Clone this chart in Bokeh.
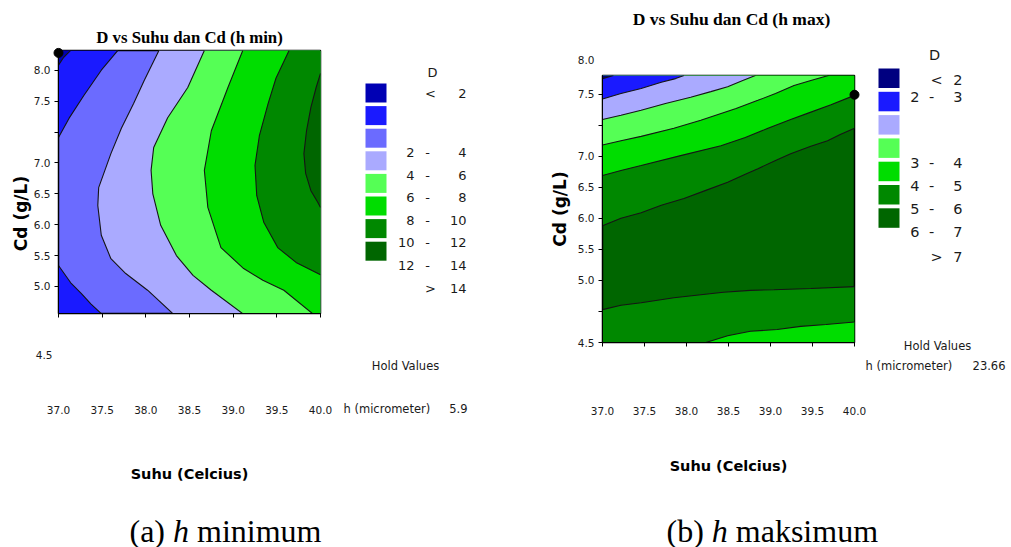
from math import pi
from bokeh.plotting import figure
from bokeh.models import Range1d, FixedTicker, PrintfTickFormatter
from bokeh.core.properties import value
from bokeh.layouts import row, column
from bokeh.embed import file_html
from bokeh.resources import INLINE

# ======================= DATA =======================
SUHU_TICKS = [37.0, 37.5, 38.0, 38.5, 39.0, 39.5, 40.0]

A_CD_TICKS = [5.0, 5.5, 6.0, 6.5, 7.0, 7.5, 8.0, 8.5]
A_CD_TICK_LABELS = ["5.0", "5.5", "6.0", "6.5", "7.0", "", "7.5", "8.0"]
B_CD_TICKS = [4.0, 4.5, 5.0, 5.5, 6.0, 6.5, 7.0, 7.5, 8.0]
B_CD_TICK_LABELS = ["4.5", "", "5.0", "5.5", "6.0", "6.5", "7.0", "", "7.5"]

A_TITLE = "D vs Suhu dan Cd (h min)"
B_TITLE = "D vs Suhu dan Cd (h max)"
X_TITLE = "Suhu (Celcius)"
Y_TITLE = "Cd (g/L)"
HOLD_TITLE = "Hold Values"
HOLD_NAME = "h (micrometer)"
A_HOLD_VALUE = "5.9"
B_HOLD_VALUE = "23.66"
LEGEND_TITLE = "D"

# (a) h minimum : bands of D
A_BAND_COLORS = ["#0000B4", "#1A1AFF", "#6B6BFF", "#AAAAFF", "#55FF55", "#00DD00", "#008800", "#006600"]
A_BAND_LABELS = [("<", "2"), ("2", "4"), ("4", "6"), ("6", "8"), ("8", "10"), ("10", "12"), ("12", "14"), (">", "14")]
A_BACKGROUND_BAND = 2
# contour lines (Suhu, Cd); band = band lying on the left of the travel direction
A_L2_X = [37.00, 37.06, 37.14]
A_L2_Y = [8.58, 8.71, 8.82]
A_L4T_X = [37.00, 37.12, 37.29, 37.49, 37.68]
A_L4T_Y = [7.41, 7.72, 8.09, 8.50, 8.82]
A_L4B_X = [37.49, 37.37, 37.26, 37.14, 37.00]
A_L4B_Y = [4.56, 4.72, 4.89, 5.06, 5.34]
A_L6_X = [38.15, 37.98, 37.86, 37.72, 37.60, 37.46, 37.45, 37.49, 37.60, 37.77, 38.02, 38.31]
A_L6_Y = [8.82, 8.33, 7.96, 7.56, 7.15, 6.60, 6.31, 5.83, 5.45, 5.21, 4.94, 4.56]
A_L8_X = [38.67, 38.48, 38.25, 38.09, 38.06, 38.08, 38.17, 38.35, 38.54, 38.75, 39.11]
A_L8_Y = [8.82, 8.22, 7.73, 7.25, 6.88, 6.50, 5.99, 5.50, 5.18, 4.94, 4.56]
A_L10_X = [39.11, 38.94, 38.75, 38.67, 38.71, 38.86, 39.12, 39.34, 39.58, 39.91]
A_L10_Y = [8.82, 8.22, 7.52, 6.88, 6.28, 5.63, 5.29, 5.10, 4.94, 4.56]
A_L12_X = [39.64, 39.49, 39.40, 39.30, 39.25, 39.27, 39.35, 39.51, 39.72, 40.00]
A_L12_Y = [8.82, 8.37, 7.96, 7.44, 6.96, 6.47, 6.04, 5.63, 5.39, 5.19]
A_L14_X = [40.00, 39.95, 39.89, 39.84, 39.81, 39.83, 39.89, 39.97, 40.00]
A_L14_Y = [8.45, 8.22, 7.90, 7.52, 7.15, 6.83, 6.55, 6.36, 6.28]
A_OPT_X = [37.0]
A_OPT_Y = [8.78]

# (b) h maksimum
B_BAND_COLORS = ["#000080", "#1A1AFF", "#AAAAFF", "#55FF55", "#00DD00", "#008800", "#006600"]
B_BAND_LABELS = [("<", "2"), ("2", "3"), ("3", "4"), ("4", "5"), ("5", "6"), ("6", "7"), (">", "7")]
B_BACKGROUND_BAND = 6
B_L2_X = [37.00, 37.13]
B_L2_Y = [8.25, 8.30]
B_L3_X = [37.00, 37.22, 37.46, 37.70, 37.87, 37.97]
B_L3_Y = [7.92, 8.01, 8.09, 8.19, 8.25, 8.30]
B_L4_X = [37.00, 37.22, 37.46, 37.75, 38.05, 38.29, 38.49, 38.67, 38.82]
B_L4_Y = [7.59, 7.66, 7.74, 7.85, 7.95, 8.04, 8.12, 8.22, 8.30]
B_L5_X = [37.00, 37.22, 37.46, 37.85, 38.17, 38.59, 38.85, 39.06, 39.28, 39.48, 39.69]
B_L5_Y = [7.18, 7.25, 7.32, 7.45, 7.58, 7.77, 7.90, 8.01, 8.14, 8.22, 8.30]
B_L6U_X = [37.00, 37.22, 37.46, 37.93, 38.41, 38.70, 38.97, 39.24, 39.44, 39.72, 40.00]
B_L6U_Y = [6.69, 6.77, 6.85, 7.01, 7.17, 7.30, 7.45, 7.59, 7.69, 7.83, 7.98]
B_L7U_X = [37.00, 37.22, 37.46, 37.70, 37.97, 38.23, 38.49, 38.70, 38.85, 39.06, 39.24, 39.48, 39.68, 39.83, 40.00]
B_L7U_Y = [5.88, 6.00, 6.09, 6.21, 6.32, 6.45, 6.58, 6.71, 6.80, 6.93, 7.04, 7.16, 7.25, 7.35, 7.45]
B_L7L_X = [40.00, 39.48, 39.04, 38.76, 38.44, 38.17, 37.85, 37.46, 37.22, 37.00]
B_L7L_Y = [4.90, 4.87, 4.85, 4.84, 4.81, 4.77, 4.72, 4.64, 4.60, 4.53]
B_L6L_X = [40.00, 39.66, 39.36, 39.08, 38.76, 38.49, 38.23]
B_L6L_Y = [4.33, 4.29, 4.26, 4.21, 4.18, 4.11, 4.00]
B_OPT_X = [40.0]
B_OPT_Y = [7.99]

A_CONTOURS = [(A_L4T_X, A_L4T_Y, 1), (A_L4B_X, A_L4B_Y, 1), (A_L2_X, A_L2_Y, 0),
              (A_L6_X, A_L6_Y, 3), (A_L8_X, A_L8_Y, 4), (A_L10_X, A_L10_Y, 5),
              (A_L12_X, A_L12_Y, 6), (A_L14_X, A_L14_Y, 7)]
B_CONTOURS = [(B_L7U_X, B_L7U_Y, 5), (B_L6U_X, B_L6U_Y, 4), (B_L5_X, B_L5_Y, 3),
              (B_L4_X, B_L4_Y, 2), (B_L3_X, B_L3_Y, 1), (B_L2_X, B_L2_Y, 0),
              (B_L7L_X, B_L7L_Y, 5), (B_L6L_X, B_L6L_Y, 4)]

# ======================= LAYOUT =======================
H = 547
A_GEOM = dict(width=540, left=58, top=50, fw=262, fh=263, yr=(4.563, 8.819), offset=0)
B_GEOM = dict(width=471, left=62, top=75, fw=252, fh=267, yr=(4.0, 8.3), offset=540)
TICK_FONT = "DejaVu Sans"
TXT = "#1a1a1a"


def make_conv(g):
    def conv(px, py):
        x = 37.0 + (px - g["offset"] - g["left"]) * 3.0 / g["fw"]
        y = g["yr"][1] - (py - g["top"]) * (g["yr"][1] - g["yr"][0]) / g["fh"]
        return x, y
    return conv


def close_region(xs, ys, x0, x1, y0, y1):
    W, Hh = x1 - x0, y1 - y0

    def s_of(x, y):
        d = {"top": abs(y - y1) / Hh, "left": abs(x - x0) / W,
             "bottom": abs(y - y0) / Hh, "right": abs(x - x1) / W}
        e = min(d, key=d.get)
        if e == "top":
            return (x1 - x) / W
        if e == "left":
            return 1 + (y1 - y) / Hh
        if e == "bottom":
            return 2 + (x - x0) / W
        return 3 + (y - y0) / Hh

    corners = [(x1, y1), (x0, y1), (x0, y0), (x1, y0)]
    sa, sb = s_of(xs[0], ys[0]), s_of(xs[-1], ys[-1])
    if sa <= sb:
        sa += 4
    px, py = list(xs), list(ys)
    for k in range(0, 9):
        if sb < k < sa:
            c = corners[k % 4]
            px.append(c[0])
            py.append(c[1])
    return px, py


def text_at(p, conv, px, py, text, size, align="left", baseline="middle", font=TICK_FONT,
            style="normal", angle=0.0, color=TXT):
    x, y = conv(px, py)
    p.text(x=[x], y=[y], text=[text], text_font=value(font), text_font_size=value(f"{size}px"),
           text_align=value(align), text_baseline=value(baseline), text_font_style=value(style),
           angle=angle, text_color=color, level="overlay")


def make_fig(g, title, title_standoff, title_size, contours, colors, bg_band,
             cd_ticks, cd_labels, xl_standoff, xa_standoff, y_axis_label):
    p = figure(width=g["width"], height=H, x_range=Range1d(37.0, 40.0), y_range=Range1d(*g["yr"]),
               output_backend="svg", toolbar_location=None,
               min_border_left=g["left"], min_border_top=g["top"],
               min_border_right=g["width"] - g["left"] - g["fw"],
               min_border_bottom=H - g["top"] - g["fh"])
    p.grid.visible = False
    p.background_fill_color = colors[bg_band]
    p.border_fill_color = "white"
    p.outline_line_color = "black"
    p.outline_line_width = 1.5
    p.outline_line_alpha = 1.0

    if title:
        p.title.text = title
        p.title.align = "center"
        p.title.text_font = "Liberation Serif"
        p.title.text_font_style = "bold"
        p.title.text_font_size = f"{title_size}px"
        p.title.text_color = "black"
        p.title.standoff = title_standoff

    for ax in (p.xaxis[0], p.yaxis[0]):
        ax.major_tick_out = 4
        ax.major_tick_in = 0
        ax.minor_tick_line_color = None
        ax.major_tick_line_color = "black"
        ax.axis_line_color = "black"
        ax.major_label_text_font = TICK_FONT
        ax.major_label_text_font_size = "10.5px"
        ax.major_label_text_color = TXT
        ax.formatter = PrintfTickFormatter(format="%.1f")
        ax.axis_label_text_font = TICK_FONT
        ax.axis_label_text_font_style = "bold"
        ax.axis_label_text_color = "black"
    xa, ya = p.xaxis[0], p.yaxis[0]
    xa.ticker = FixedTicker(ticks=SUHU_TICKS)
    xa.major_label_standoff = xl_standoff
    xa.axis_label = X_TITLE
    xa.axis_label_text_font_size = "14.5px"
    xa.axis_label_standoff = xa_standoff
    ya.ticker = FixedTicker(ticks=cd_ticks)
    ya.major_label_overrides = {t: s for t, s in zip(cd_ticks, cd_labels)}
    ya.major_label_standoff = 4
    if y_axis_label:
        ya.axis_label = Y_TITLE
        ya.axis_label_text_font_size = "17px"
        ya.axis_label_standoff = 5

    y0, y1 = g["yr"]
    xs, ys, cs = [], [], []
    for cx, cy, band in contours:
        px, py = close_region(cx, cy, 37.0, 40.0, y0, y1)
        xs.append(px)
        ys.append(py)
        cs.append(colors[band])
    p.patches(xs, ys, fill_color=cs, line_color=None)
    p.multi_line([c[0] for c in contours], [c[1] for c in contours], line_color="#151515", line_width=1.1)
    return p


def add_legend(p, conv, colors, labels, sw_x, sw_top, sw_step, sw_h, rows_py, cols, d_pos, size):
    lefts, rights, tops, bottoms = [], [], [], []
    for i in range(len(colors)):
        xa_, ya_ = conv(sw_x[0], sw_top + i * sw_step)
        xb_, yb_ = conv(sw_x[1], sw_top + i * sw_step + sw_h)
        lefts.append(xa_)
        rights.append(xb_)
        tops.append(ya_)
        bottoms.append(yb_)
    p.quad(left=lefts, right=rights, top=tops, bottom=bottoms, fill_color=colors,
           line_color=None, level="overlay")
    text_at(p, conv, d_pos[0], d_pos[1], LEGEND_TITLE, size, align="center")
    lo_right, dash_c, hi_right, sign_c = cols
    for (lo, hi), py in zip(labels, rows_py):
        if lo in ("<", ">"):
            text_at(p, conv, sign_c, py, lo, size, align="center")
        else:
            text_at(p, conv, lo_right, py, lo, size, align="right")
            text_at(p, conv, dash_c, py, "-", size, align="center")
        text_at(p, conv, hi_right, py, hi, size, align="right")


# ----- (a) h minimum -----
ca = make_conv(A_GEOM)
pa = make_fig(A_GEOM, A_TITLE, 8, 16.8, A_CONTOURS, A_BAND_COLORS, A_BACKGROUND_BAND,
              A_CD_TICKS, A_CD_TICK_LABELS, 88, 49, False)
pa.scatter(A_OPT_X, A_OPT_Y, size=9, color="black", level="overlay")
text_at(pa, ca, 20, 213, Y_TITLE, 17, align="center", style="bold", angle=pi / 2, color="black")
text_at(pa, ca, 52, 354, "4.5", 10.5, align="right")
add_legend(pa, ca, A_BAND_COLORS, A_BAND_LABELS, (365, 386), 83, 22.6, 19,
           [92.7, 152, 175, 197, 220, 242, 265, 288], (414, 427, 466, 430), (432, 72), 13)
text_at(pa, ca, 405, 365, HOLD_TITLE, 11.5, align="center")
text_at(pa, ca, 343, 408, HOLD_NAME, 11.5, align="left")
text_at(pa, ca, 467, 408, A_HOLD_VALUE, 11.5, align="right")
text_at(pa, ca, 129, 530, "(a)", 32, font="Liberation Serif", color="black")
text_at(pa, ca, 172.5, 530, "h", 32, font="Liberation Serif", style="italic", color="black")
text_at(pa, ca, 196.5, 530, "minimum", 32, font="Liberation Serif", color="black")

# ----- (b) h maksimum -----
cb = make_conv(B_GEOM)
pb = make_fig(B_GEOM, None, 0, 0, B_CONTOURS, B_BAND_COLORS, B_BACKGROUND_BAND,
              B_CD_TICKS, B_CD_TICK_LABELS, 60, 40, True)
text_at(pb, cb, 731, 18, B_TITLE, 17.5, align="center", font="Liberation Serif", style="bold", color="black")
pb.scatter(B_OPT_X, B_OPT_Y, size=9, color="black", level="overlay")
text_at(pb, cb, 594, 59, "8.0", 10.5, align="right")
add_legend(pb, cb, B_BAND_COLORS, B_BAND_LABELS, (878, 899), 68, 23.3, 19.5,
           [79, 96, 162, 185, 208, 231, 256], (919, 931, 962, 936), (934, 54), 14.5)
text_at(pb, cb, 937, 345, HOLD_TITLE, 11.5, align="center")
text_at(pb, cb, 865, 365, HOLD_NAME, 11.5, align="left")
text_at(pb, cb, 1005, 365, B_HOLD_VALUE, 11.5, align="right")
text_at(pb, cb, 666, 530, "(b)", 32, font="Liberation Serif", color="black")
text_at(pb, cb, 711.3, 530, "h", 32, font="Liberation Serif", style="italic", color="black")
text_at(pb, cb, 735.3, 530, "maksimum", 32, font="Liberation Serif", color="black")

layout = row(column(pa), column(pb))
open("out.html", "w").write(file_html(layout, INLINE))
